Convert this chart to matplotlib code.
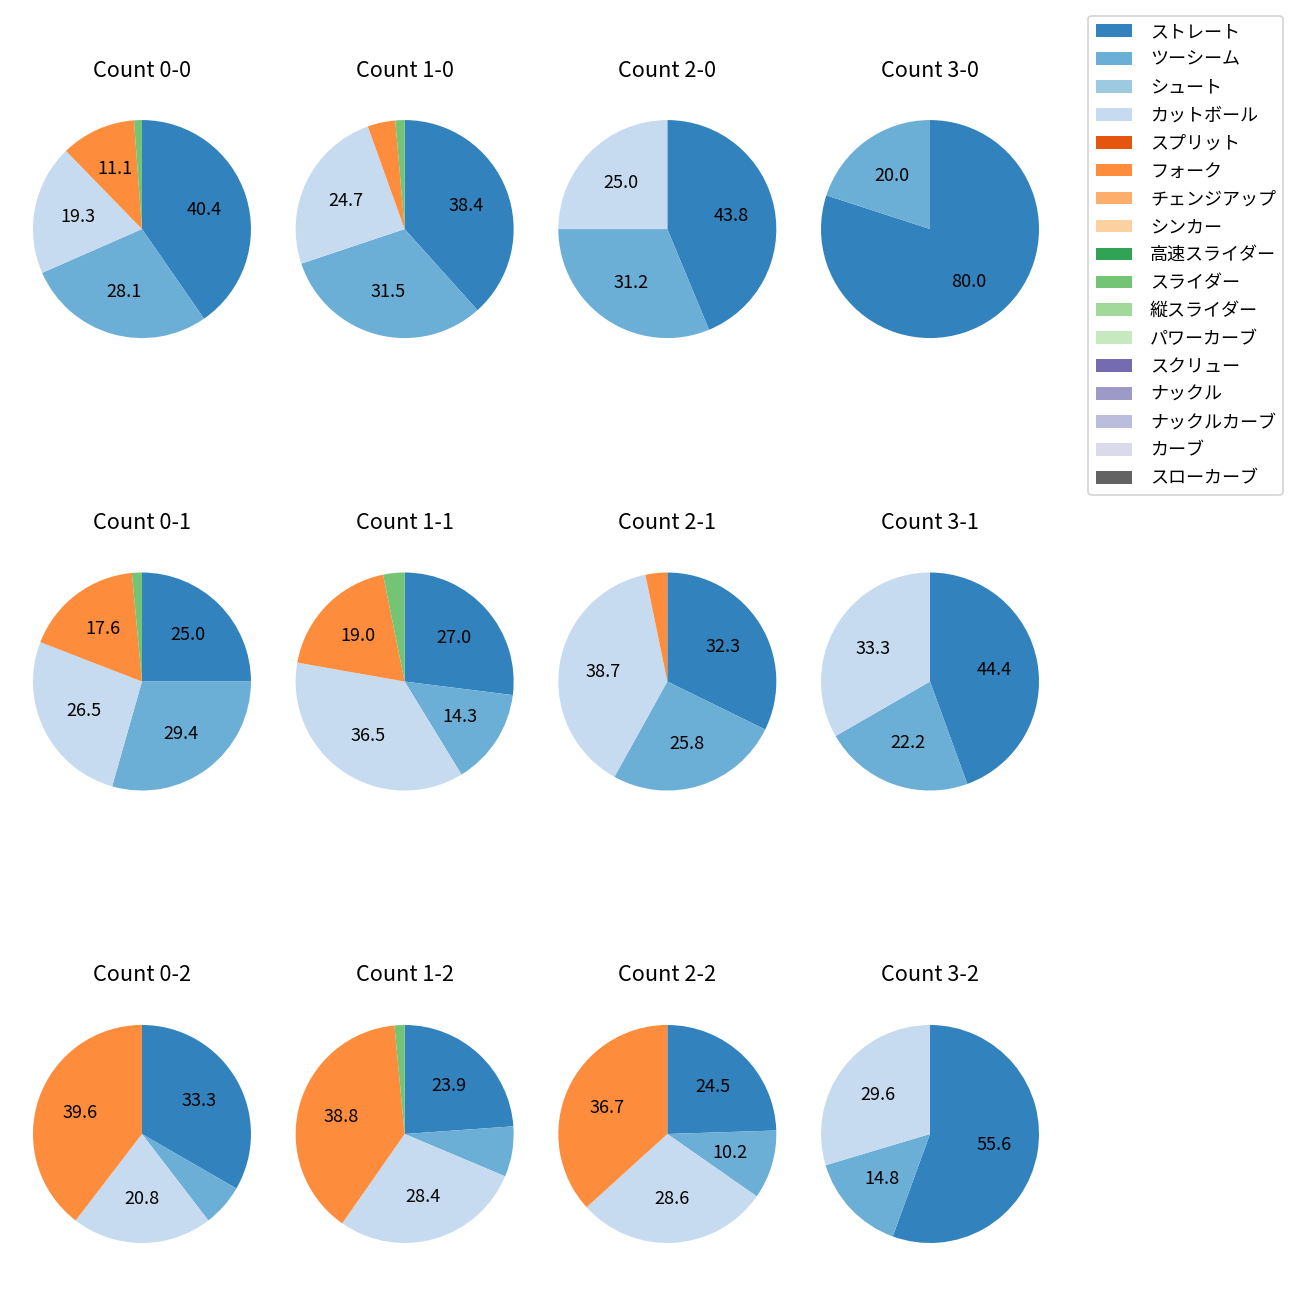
import matplotlib
matplotlib.use('Agg')
import matplotlib.pyplot as plt
from matplotlib.patches import Patch

plt.rcParams['font.family'] = ['Noto Sans CJK JP', 'DejaVu Sans']

pitch_types = ['ストレート', 'ツーシーム', 'シュート', 'カットボール', 'スプリット', 'フォーク',
               'チェンジアップ', 'シンカー', '高速スライダー', 'スライダー', '縦スライダー',
               'パワーカーブ', 'スクリュー', 'ナックル', 'ナックルカーブ', 'カーブ', 'スローカーブ']

# pitch counts per ball-strike count, in pitch_types order
# (straight, two-seam, shoot, cut, split, fork, ..., slider, ...)
counts = {
    '0-0': [69, 48, 0, 33, 0, 19, 0, 0, 0, 2, 0, 0, 0, 0, 0, 0, 0],
    '1-0': [28, 23, 0, 18, 0, 3, 0, 0, 0, 1, 0, 0, 0, 0, 0, 0, 0],
    '2-0': [7, 5, 0, 4, 0, 0, 0, 0, 0, 0, 0, 0, 0, 0, 0, 0, 0],
    '3-0': [4, 1, 0, 0, 0, 0, 0, 0, 0, 0, 0, 0, 0, 0, 0, 0, 0],
    '0-1': [17, 20, 0, 18, 0, 12, 0, 0, 0, 1, 0, 0, 0, 0, 0, 0, 0],
    '1-1': [17, 9, 0, 23, 0, 12, 0, 0, 0, 2, 0, 0, 0, 0, 0, 0, 0],
    '2-1': [10, 8, 0, 12, 0, 1, 0, 0, 0, 0, 0, 0, 0, 0, 0, 0, 0],
    '3-1': [4, 2, 0, 3, 0, 0, 0, 0, 0, 0, 0, 0, 0, 0, 0, 0, 0],
    '0-2': [16, 3, 0, 10, 0, 19, 0, 0, 0, 0, 0, 0, 0, 0, 0, 0, 0],
    '1-2': [16, 5, 0, 19, 0, 26, 0, 0, 0, 1, 0, 0, 0, 0, 0, 0, 0],
    '2-2': [12, 5, 0, 14, 0, 18, 0, 0, 0, 0, 0, 0, 0, 0, 0, 0, 0],
    '3-2': [15, 4, 0, 8, 0, 0, 0, 0, 0, 0, 0, 0, 0, 0, 0, 0, 0],
}

cmap = plt.get_cmap('tab20c')
colors = [cmap(i) for i in range(len(pitch_types))]

fig, axes = plt.subplots(3, 4, figsize=(10, 10), dpi=130)
fig.subplots_adjust(left=0.0044, right=0.8202, wspace=-0.036,
                    top=0.9392, bottom=0.0123, hspace=0.508)


def fmt(p):
    return f'{p:.1f}' if p >= 10 else ''


for s in range(3):
    for b in range(4):
        ax = axes[s, b]
        key = f'{b}-{s}'
        vals = counts[key]
        v = [x for x in vals if x > 0]
        c = [colors[i] for i, x in enumerate(vals) if x > 0]
        ax.pie(v, colors=c, startangle=90, counterclock=False,
               autopct=fmt, textprops={'fontsize': 10})
        ax.set_title(f'Count {key}', fontsize=12, pad=9)
        ax.set_aspect('equal')

handles = [Patch(facecolor=colors[i], label=pitch_types[i]) for i in range(len(pitch_types))]
fig.legend(handles=handles, loc='upper right', bbox_to_anchor=(0.987, 0.988),
           borderaxespad=0, fontsize=10, handletextpad=1.0, labelspacing=0.55)

fig.savefig('out.png')
